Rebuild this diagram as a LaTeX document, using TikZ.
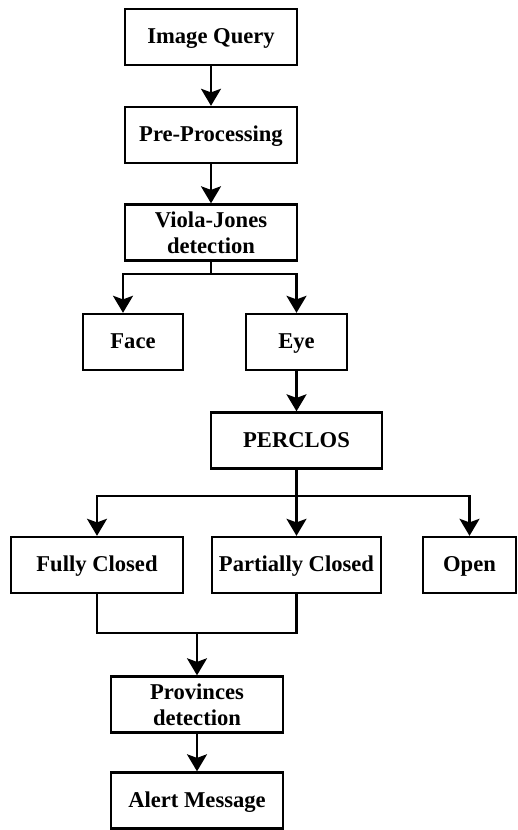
\documentclass[tikz,border=0pt]{standalone}
\usepackage{fontspec}
\setmainfont{Liberation Serif}
\usetikzlibrary{arrows.meta}
\tikzset{
	box/.style={draw, line width=1.2pt, inner sep=0pt, align=center, minimum height=28pt, font=\fontsize{11.3}{13}\selectfont\bfseries},
	oneline/.style={text height=0.82em, text depth=0.14em},
	flow/.style={line width=1.2pt, -{Stealth[length=8.5pt,width=10pt,inset=1.8pt]}},
	link/.style={line width=1.2pt},
}

\begin{document}
\begin{tikzpicture}[x=0.5pt, y=-0.5pt]
			%%%%% START %%%%%
			\useasboundingbox (0, 0) rectangle (518, 830);
			
			\node[box, oneline, minimum width=86pt] (query) at (211, 37) {Image Query};
			\node[box, oneline, minimum width=86pt] (pre) at (211, 135) {Pre-Processing};
			\node[box, minimum width=86pt] (viola) at (211, 232.5) {Viola-Jones\\detection};
			
			\node[box, oneline, minimum width=50pt] (face) at (133, 342) {Face};
			\node[box, oneline, minimum width=50.5pt] (eye) at (296.5, 342) {Eye};
			\node[box, oneline, minimum width=85.5pt] (perclos) at (296.5, 440.5) {PERCLOS};
			
			\node[box, oneline, minimum width=86pt] (fully) at (97, 565) {Fully Closed};
			\node[box, oneline, minimum width=84.5pt] (partial) at (296.5, 565) {Partially Closed};
			\node[box, oneline, minimum width=46.5pt] (open) at (469.5, 565) {Open};
			
			\node[box, minimum width=86pt] (prov) at (197, 704.5) {Provinces\\detection};
			\node[box, oneline, minimum width=86pt] (alert) at (197, 800.5) {Alert Message};
			
			\coordinate (vsplit) at (211, 274);
			\coordinate (psplit) at (296.5, 496);
			\coordinate (merge) at (197, 633);
			
			\draw[flow] (query) -- (pre);
			\draw[flow] (pre) -- (viola);
			\draw[link] (viola) -- (vsplit);
			\draw[flow] (vsplit) -| ([xshift=-5pt]face.north);
			\draw[flow] (vsplit) -| (eye);
			\draw[flow] (eye) -- (perclos);
			
			\draw[link] (perclos) -- (psplit);
			\draw[flow] (psplit) -| (fully);
			\draw[flow] (psplit) -- (partial);
			\draw[flow] (psplit) -| (open);
			
			\draw[link] (fully) |- (merge) -| (partial);
			\draw[flow] (merge) -- (prov);
			\draw[flow] (prov) -- (alert);
			
			%%%%% END %%%%%
\end{tikzpicture}
\end{document}
